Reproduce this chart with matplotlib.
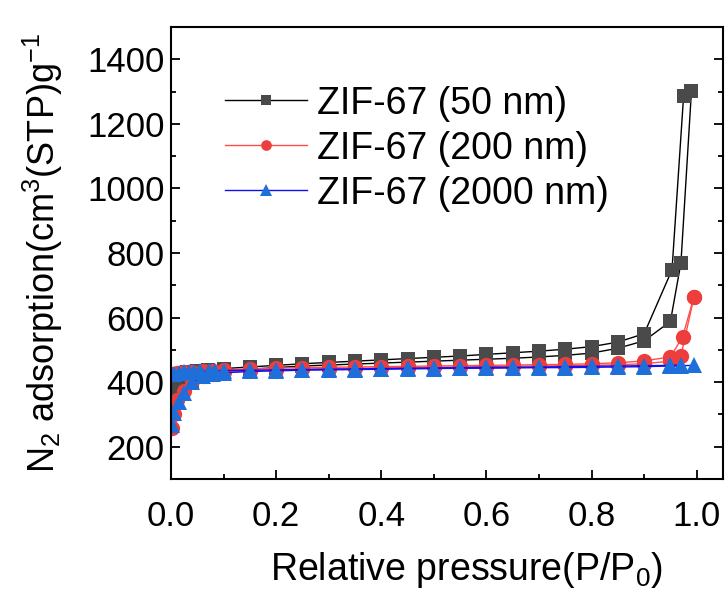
import matplotlib
matplotlib.use("Agg")
import matplotlib.pyplot as plt
from matplotlib.ticker import MultipleLocator

plt.rcParams["font.family"] = ["Liberation Sans", "DejaVu Sans"]
plt.rcParams["mathtext.fontset"] = "custom"
plt.rcParams["mathtext.rm"] = "Liberation Sans"
plt.rcParams["mathtext.it"] = "Liberation Sans:italic"

# ZIF-67 (50 nm): adsorption and desorption branches
p_50_ads = [0.002, 0.006, 0.012, 0.025, 0.04, 0.07, 0.1, 0.15, 0.2, 0.25, 0.3, 0.35, 0.4, 0.45,
            0.5, 0.55, 0.6, 0.65, 0.7, 0.75, 0.8, 0.85, 0.9, 0.95, 0.97, 0.99]
v_50_ads = [300, 352, 385, 398, 405, 425, 433, 440, 445, 450, 453, 456, 459, 462,
            465, 468, 471, 474, 478, 483, 490, 505, 528, 588, 770, 1302]
p_50_des = [0.975, 0.953, 0.9, 0.85, 0.8, 0.75, 0.7, 0.65, 0.6, 0.55, 0.5, 0.45, 0.4, 0.35,
            0.3, 0.25, 0.2, 0.15, 0.1, 0.07, 0.05, 0.03, 0.01, 0.004]
v_50_des = [1285, 748, 550, 524, 510, 502, 496, 491, 486, 481, 477, 473, 469, 465,
            461, 457, 452, 447, 442, 437, 433, 430, 425, 420]

# ZIF-67 (200 nm)
p_200_ads = [0.002, 0.006, 0.012, 0.025, 0.04, 0.06, 0.08, 0.1, 0.15, 0.2, 0.25, 0.3, 0.35, 0.4,
             0.45, 0.5, 0.55, 0.6, 0.65, 0.7, 0.75, 0.8, 0.85, 0.9, 0.95, 0.97, 0.995]
v_200_ads = [258, 300, 345, 372, 405, 420, 426, 430, 435, 438, 440, 442, 443, 444,
             445, 446, 447, 448, 449, 450, 451, 452, 454, 457, 465, 482, 665]
p_200_des = [0.995, 0.973, 0.95, 0.9, 0.85, 0.8, 0.75, 0.7, 0.65, 0.6, 0.55, 0.5, 0.45, 0.4,
             0.35, 0.3, 0.25, 0.2, 0.15, 0.1, 0.08, 0.06, 0.04, 0.025, 0.012, 0.004]
v_200_des = [665, 540, 478, 466, 460, 457, 455, 454, 453, 452, 451, 450, 449, 448,
             447, 446, 445, 443, 441, 438, 436, 434, 432, 430, 428, 425]

# ZIF-67 (2000 nm)
p_2000_ads = [0.002, 0.006, 0.015, 0.025, 0.04, 0.06, 0.08, 0.1, 0.15, 0.2, 0.25, 0.3, 0.35, 0.4,
              0.45, 0.5, 0.55, 0.6, 0.65, 0.7, 0.75, 0.8, 0.85, 0.9, 0.95, 0.97, 0.995]
v_2000_ads = [266, 305, 338, 365, 400, 418, 425, 429, 433, 435, 437, 438, 439, 440,
              441, 442, 443, 443, 444, 445, 445, 446, 447, 448, 450, 451, 452]
p_2000_des = [0.97, 0.95, 0.9, 0.85, 0.8, 0.75, 0.7, 0.65, 0.6, 0.55, 0.5, 0.45, 0.4, 0.35,
              0.3, 0.25, 0.2, 0.15, 0.1, 0.084, 0.072, 0.056, 0.043, 0.034, 0.024, 0.015, 0.005]
v_2000_des = [453, 452, 451, 450, 449, 448, 447, 446, 446, 445, 444, 443, 442, 441,
              440, 439, 438, 437, 436, 435, 434, 433, 432, 431, 430, 428, 425]

series = [
    ("ZIF-67 (50 nm)", p_50_ads, v_50_ads, p_50_des, v_50_des, "s", "#4a4a4a", "#000000", 10.0),
    ("ZIF-67 (200 nm)", p_200_ads, v_200_ads, p_200_des, v_200_des, "o", "#ee3d3d", "#ff4d4d", 11.0),
    ("ZIF-67 (2000 nm)", p_2000_ads, v_2000_ads, p_2000_des, v_2000_des, "^", "#1e6fd9", "#1010ee", 12.0),
]

fig = plt.figure(figsize=(7.27, 5.96), dpi=100)
ax = fig.add_axes([0.2352, 0.1963, 0.7593, 0.7584])

for label, pa, va, pd, vd, marker, mcolor, lcolor, msize in series:
    style = dict(marker=marker, markersize=msize, markerfacecolor=mcolor, markeredgecolor=mcolor,
                 markeredgewidth=0, color=lcolor, linewidth=1.0)
    ax.plot(pa, va, label=label, **style)
    ax.plot(pd, vd, **style)

ax.set_xlim(0, 1.05)
ax.set_ylim(100, 1500)
ax.xaxis.set_minor_locator(MultipleLocator(0.1))
ax.yaxis.set_minor_locator(MultipleLocator(100))
ax.set_yticks([200, 400, 600, 800, 1000, 1200, 1400])
ax.set_xticks([0.0, 0.2, 0.4, 0.6, 0.8, 1.0])
ax.set_xticklabels(["0.0", "0.2", "0.4", "0.6", "0.8", "1.0"])

ax.tick_params(which="both", direction="in", right=True, top=False, width=1.3, labelsize=25)
ax.tick_params(which="major", length=6.5)
ax.tick_params(which="minor", length=3.6)
ax.tick_params(axis="x", which="major", pad=15)
ax.tick_params(axis="y", which="major", pad=4.5)
for spine in ax.spines.values():
    spine.set_linewidth(1.5)

ax.set_xlabel("Relative pressure(P/P$_0$)", fontsize=27, labelpad=12)
ax.xaxis.label.set_x(0.535)
ax.set_ylabel("N$_2$ adsorption(cm$^3$(STP)g$^{-1}$", fontsize=26, labelpad=16)

leg = ax.legend(loc="upper left", bbox_to_anchor=(0.036, 0.945), frameon=False, fontsize=27,
                markerscale=0.7, handlelength=2.2, handletextpad=0.27, labelspacing=0.24)

fig.savefig("out.png", dpi=100, facecolor="white")
